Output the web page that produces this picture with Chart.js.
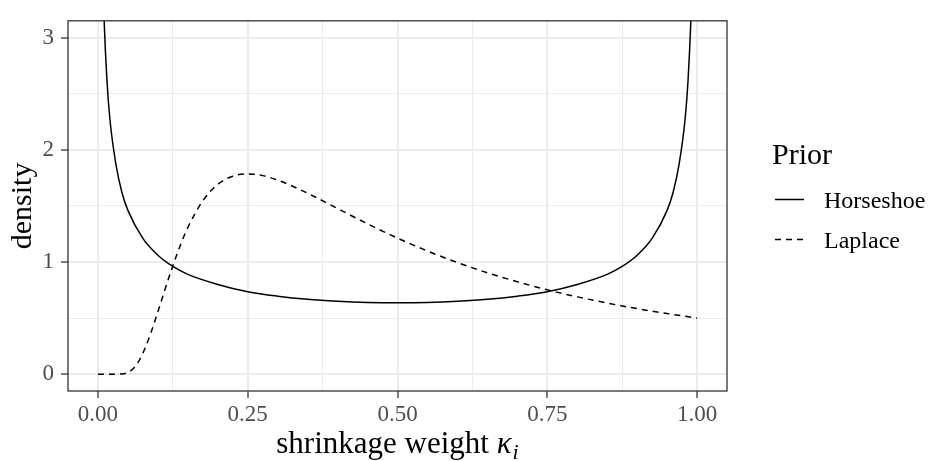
<!DOCTYPE html>
<html>
<head>
<meta charset="utf-8">
<title>Shrinkage weight densities</title>
<script src="https://cdn.jsdelivr.net/npm/chart.js@4.4.1/dist/chart.umd.min.js"></script>
<style>
  body { margin: 0; background: #ffffff; }
  #wrap { width: 928px; height: 461px; position: relative; }
</style>
</head>
<body>
<div id="wrap"><canvas id="kappaChart"></canvas></div>
<script>
// density of the shrinkage weight kappa under each prior
const hsKappa = [0.005, 0.0075, 0.01, 0.015, 0.02, 0.03, 0.04, 0.05, 0.075, 0.1,
                 0.125, 0.15, 0.2, 0.25, 0.3, 0.35, 0.4, 0.45, 0.5,
                 0.55, 0.6, 0.65, 0.7, 0.75, 0.8, 0.85, 0.875,
                 0.9, 0.925, 0.95, 0.96, 0.97, 0.98, 0.985, 0.99, 0.9925, 0.995];
const hsDensity = [4.51, 3.69, 3.20, 2.62, 2.27, 1.87, 1.62, 1.46, 1.21, 1.06,
                   0.96, 0.89, 0.80, 0.735, 0.695, 0.667, 0.650, 0.640, 0.637,
                   0.640, 0.650, 0.667, 0.695, 0.735, 0.80, 0.89, 0.96,
                   1.06, 1.21, 1.46, 1.62, 1.87, 2.27, 2.62, 3.20, 3.69, 4.51];

const lapKappa = [0, 0.02, 0.04, 0.05, 0.06, 0.07, 0.08, 0.09, 0.1, 0.11,
                  0.125, 0.14, 0.15, 0.175, 0.2, 0.225, 0.25, 0.275, 0.3,
                  0.35, 0.4, 0.45, 0.5, 0.55, 0.6, 0.65, 0.7, 0.75, 0.8,
                  0.85, 0.9, 0.95, 1];
const lapDensity = [0, 0, 0.002, 0.015, 0.055, 0.133, 0.249, 0.393, 0.556, 0.724,
                    0.966, 1.183, 1.307, 1.546, 1.692, 1.765, 1.785, 1.770, 1.730,
                    1.613, 1.476, 1.340, 1.213, 1.098, 0.995, 0.904, 0.824, 0.752, 0.689,
                    0.634, 0.584, 0.540, 0.500];

const seriesNames = ['Horseshoe', 'Laplace'];

const xTicks = [0, 0.25, 0.5, 0.75, 1];
const xTickLabels = ['0.00', '0.25', '0.50', '0.75', '1.00'];
const xMinor = [0.125, 0.375, 0.625, 0.875];
const yTicks = [0, 1, 2, 3];
const yTickLabels = ['0', '1', '2', '3'];
const yMinor = [0.5, 1.5, 2.5];

const SERIF = "'Liberation Serif', 'DejaVu Serif', serif";
const GRID = '#EBEBEB';
const DARK = '#333333';

function toPoints(xs, ys) {
    return xs.map((x, i) => ({ x: x, y: ys[i] }));
}

// ggplot-like axis: major + minor grid lines, labels and tick marks on majors only
function axisOptions(min, max, majors, labels, minors, isX) {
    return {
        type: 'linear',
        min: min,
        max: max,
        afterBuildTicks: scale => {
            scale.ticks = majors.concat(minors).sort((a, b) => a - b).map(v => ({ value: v }));
        },
        afterFit: scale => {
            if (isX) scale.height = 70;
            else scale.width = 68;
        },
        border: { display: false },
        grid: {
            color: GRID,
            lineWidth: ctx => majors.includes(ctx.tick.value) ? 2 : 1,
            drawTicks: true,
            tickLength: 7,
            tickWidth: 1.3,
            tickColor: ctx => majors.includes(ctx.tick.value) ? DARK : 'rgba(0,0,0,0)'
        },
        ticks: {
            autoSkip: false,
            maxRotation: 0,
            minRotation: 0,
            padding: isX ? 3 : 7,
            color: '#4D4D4D',
            font: { family: SERIF, size: 23 },
            callback: value => {
                const i = majors.indexOf(value);
                return i >= 0 ? labels[i] : '';
            }
        }
    };
}

// full panel border
const panelBorder = {
    id: 'panelBorder',
    afterDraw(chart) {
        const { ctx, chartArea: a } = chart;
        ctx.save();
        ctx.strokeStyle = DARK;
        ctx.lineWidth = 1.3;
        ctx.strokeRect(a.left, a.top, a.right - a.left, a.bottom - a.top);
        ctx.restore();
    }
};

// axis titles, the x one with an italic kappa and subscript i
const axisTitles = {
    id: 'axisTitles',
    afterDraw(chart) {
        const { ctx, chartArea: a } = chart;
        ctx.save();
        ctx.fillStyle = '#000000';
        ctx.textBaseline = 'alphabetic';
        ctx.textAlign = 'left';

        const main = 'shrinkage weight ';
        const fMain = '31px ' + SERIF;
        const fKappa = 'italic 31px ' + SERIF;
        const fSub = 'italic 22px ' + SERIF;
        ctx.font = fMain;
        const w1 = ctx.measureText(main).width;
        ctx.font = fKappa;
        const w2 = ctx.measureText('κ').width;
        ctx.font = fSub;
        const w3 = ctx.measureText('i').width;
        let x = (a.left + a.right) / 2 - (w1 + w2 + w3 + 1) / 2;
        const base = 453;
        ctx.font = fMain;
        ctx.fillText(main, x, base);
        x += w1;
        ctx.font = fKappa;
        ctx.fillText('κ', x, base);
        x += w2 + 1;
        ctx.font = fSub;
        ctx.fillText('i', x, base + 6);

        ctx.translate(31, (a.top + a.bottom) / 2);
        ctx.rotate(-Math.PI / 2);
        ctx.textAlign = 'center';
        ctx.font = '30px ' + SERIF;
        ctx.fillText('density', 0, 0);
        ctx.restore();
    }
};

// legend on the right: title plus line keys
const priorLegend = {
    id: 'priorLegend',
    afterDraw(chart) {
        const ctx = chart.ctx;
        ctx.save();
        ctx.fillStyle = '#000000';
        ctx.textAlign = 'left';
        ctx.textBaseline = 'alphabetic';
        ctx.font = '30px ' + SERIF;
        ctx.fillText('Prior', 772, 164);

        chart.data.datasets.forEach((ds, i) => {
            const y = 199.5 + i * 40;
            ctx.strokeStyle = ds.borderColor;
            ctx.lineWidth = ds.borderWidth;
            ctx.setLineDash(ds.borderDash || []);
            ctx.beginPath();
            ctx.moveTo(775, y);
            ctx.lineTo(804, y);
            ctx.stroke();
            ctx.setLineDash([]);
            ctx.font = '24px ' + SERIF;
            ctx.fillText(ds.label, 824, y + 8);
        });
        ctx.restore();
    }
};

Chart.defaults.font.family = SERIF;

const ctx = document.getElementById('kappaChart').getContext('2d');
const kappaChart = new Chart(ctx, {
    type: 'line',
    data: {
        datasets: [{
            label: seriesNames[0],
            data: toPoints(hsKappa, hsDensity),
            borderColor: '#000000',
            borderWidth: 1.5,
            pointRadius: 0,
            cubicInterpolationMode: 'monotone',
            fill: false
        }, {
            label: seriesNames[1],
            data: toPoints(lapKappa, lapDensity),
            borderColor: '#000000',
            borderWidth: 1.5,
            borderDash: [6, 5],
            pointRadius: 0,
            cubicInterpolationMode: 'monotone',
            fill: false
        }]
    },
    options: {
        responsive: true,
        maintainAspectRatio: false,
        animation: false,
        layout: { padding: { top: 7, right: 201, left: 0, bottom: 0 } },
        scales: {
            x: axisOptions(-0.05, 1.05, xTicks, xTickLabels, xMinor, true),
            y: axisOptions(-0.15, 3.15, yTicks, yTickLabels, yMinor, false)
        },
        plugins: {
            legend: { display: false },
            tooltip: { enabled: false }
        }
    },
    plugins: [panelBorder, axisTitles, priorLegend]
});
</script>
</body>
</html>
